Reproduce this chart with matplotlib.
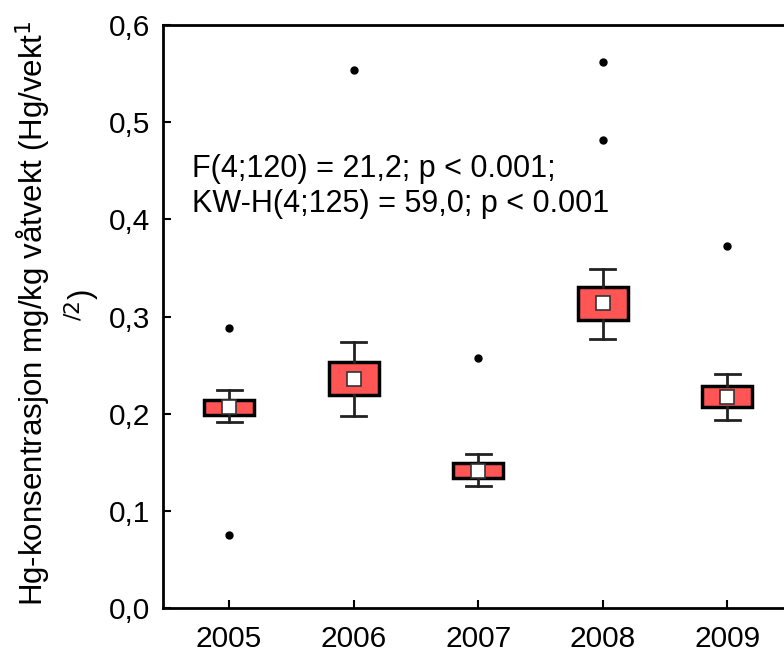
import matplotlib
matplotlib.use("Agg")
import matplotlib.pyplot as plt

plt.rcParams['font.family'] = ['Liberation Sans', 'DejaVu Sans']

years = ["2005", "2006", "2007", "2008", "2009"]
q1 = [0.199, 0.219, 0.134, 0.296, 0.207]
q3 = [0.214, 0.253, 0.1495, 0.330, 0.228]
whislo = [0.191, 0.198, 0.126, 0.277, 0.193]
whishi = [0.224, 0.274, 0.158, 0.349, 0.241]
means = [0.207, 0.236, 0.1415, 0.314, 0.217]
fliers = [[0.288, 0.075], [0.554], [0.257], [0.562, 0.482], [0.373]]
yticks = [0.0, 0.1, 0.2, 0.3, 0.4, 0.5, 0.6]
ytick_labels = ["0,0", "0,1", "0,2", "0,3", "0,4", "0,5", "0,6"]
annotation_lines = ["F(4;120) = 21,2; p < 0.001;", "KW-H(4;125) = 59,0; p < 0.001"]

fig = plt.figure(figsize=(7.84, 6.54), dpi=100)
ax = fig.add_axes([0.208, 0.0703, 0.804, 0.8915])

stats = []
for i in range(len(years)):
    stats.append(dict(label=years[i], med=means[i], q1=q1[i], q3=q3[i],
                      whislo=whislo[i], whishi=whishi[i], fliers=fliers[i],
                      mean=means[i]))

positions = list(range(1, len(years) + 1))
ax.bxp(stats, positions=positions, widths=0.4, patch_artist=True,
       showmeans=True, showfliers=True, capwidths=0.2,
       boxprops=dict(facecolor='#ff5555', edgecolor='black', linewidth=2.5),
       whiskerprops=dict(color='#222222', linewidth=2),
       capprops=dict(color='#222222', linewidth=2),
       medianprops=dict(linewidth=0),
       meanprops=dict(marker='s', markerfacecolor='white', markeredgecolor='#333333',
                      markeredgewidth=1.2, markersize=10),
       flierprops=dict(marker='o', markerfacecolor='black', markeredgecolor='black',
                       markersize=5))

ax.set_xlim(0.47, 5.53)
ax.set_ylim(0, 0.6)
ax.set_xticks(positions)
ax.set_xticklabels(years)
ax.set_yticks(yticks)
ax.set_yticklabels(ytick_labels)
ax.tick_params(direction='in', length=6, width=1.5, labelsize=21.5)
ax.tick_params(axis='x', pad=12)
ax.tick_params(axis='y', pad=9)
for s in ax.spines.values():
    s.set_linewidth(2)

ax.text(0.703, 0.4435, annotation_lines[0], fontsize=22, va='baseline', ha='left')
ax.text(0.703, 0.4075, annotation_lines[1], fontsize=22, va='baseline', ha='left')

fig.text(0.042, 0.521, "Hg-konsentrasjon mg/kg våtvekt (Hg/vekt$^{1}$",
         rotation=90, fontsize=22.5, ha='center', va='center')
fig.text(0.105, 0.534, "$^{/2}$)", rotation=90, fontsize=22.5, ha='center', va='center')

fig.savefig("out.png", dpi=100)
